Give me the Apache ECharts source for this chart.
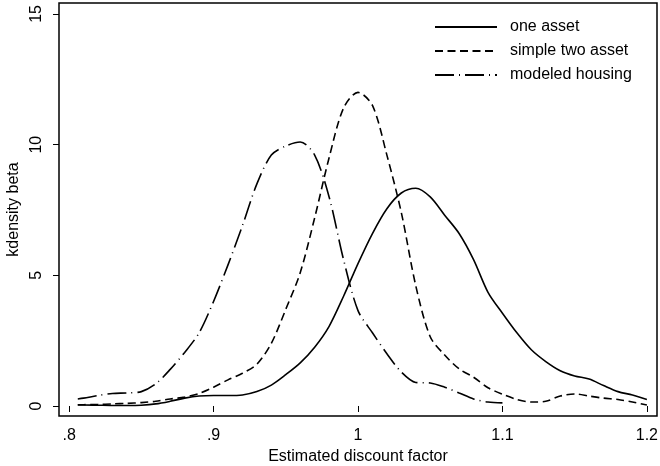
<!DOCTYPE html>
<html>
<head>
<meta charset="utf-8">
<script src="https://cdn.jsdelivr.net/npm/echarts@6/dist/echarts.min.js"></script>
<style>
  html, body { margin: 0; padding: 0; background: #fff; }
  #chart { width: 660px; height: 466px; }
</style>
</head>
<body>
<div id="chart"></div>
<script>
  // evaluation points of the kernel densities
  var xs = [0.806, 0.81, 0.82, 0.83, 0.84, 0.85, 0.86, 0.87, 0.88, 0.89,
            0.90, 0.91, 0.92, 0.93, 0.94, 0.95, 0.96, 0.97, 0.98, 0.99,
            1.00, 1.01, 1.02, 1.03, 1.04, 1.05, 1.06, 1.07, 1.08, 1.09,
            1.10, 1.11, 1.12, 1.13, 1.14, 1.15, 1.16, 1.17, 1.18, 1.19, 1.20];

  var oneAsset = [0.04, 0.04, 0.03, 0.02, 0.02, 0.03, 0.08, 0.18, 0.30, 0.38,
                  0.40, 0.40, 0.42, 0.55, 0.80, 1.20, 1.65, 2.25, 3.05, 4.20,
                  5.45, 6.60, 7.55, 8.15, 8.33, 8.00, 7.30, 6.60, 5.60, 4.35,
                  3.55, 2.80, 2.15, 1.70, 1.35, 1.15, 1.03, 0.78, 0.55, 0.42, 0.25];

  var simpleTwo = [0.05, 0.05, 0.06, 0.08, 0.10, 0.13, 0.18, 0.27, 0.34, 0.48,
                   0.72, 1.00, 1.25, 1.60, 2.40, 3.70, 5.10, 7.20, 9.50, 11.40,
                   12.00, 11.50, 9.60, 7.40, 4.60, 2.65, 1.95, 1.42, 1.10, 0.70,
                   0.45, 0.25, 0.15, 0.18, 0.38, 0.46, 0.38, 0.30, 0.25, 0.15, 0.04];

  // modeled housing stops at 1.10
  var housing = [0.27, 0.30, 0.40, 0.48, 0.50, 0.55, 0.85, 1.40, 2.05, 2.80,
                 4.00, 5.40, 6.90, 8.50, 9.60, 9.95, 10.10, 9.60, 8.00, 5.60,
                 3.65, 2.80, 2.00, 1.30, 0.90, 0.88, 0.72, 0.50, 0.27, 0.15, 0.12];

  var xTicks = [0.8, 0.9, 1.0, 1.1, 1.2];
  var xTickLabels = ['.8', '.9', '1', '1.1', '1.2'];
  var yTicks = [0, 5, 10, 15];

  function pairs(ys) {
    return ys.map(function (y, i) { return [xs[i], y]; });
  }

  var font = 'Liberation Sans, Arial, sans-serif';
  var chart = echarts.init(document.getElementById('chart'));

  chart.setOption({
    animation: false,
    backgroundColor: '#fff',
    textStyle: { fontFamily: font },
    grid: {
      left: 59, top: 3, right: 3, bottom: 50,
      containLabel: false, outerBoundsMode: 'none',
      show: true, borderColor: '#000', borderWidth: 1.5
    },
    legend: {
      orient: 'vertical',
      left: 434, top: 19, padding: 0,
      itemWidth: 62, itemHeight: 18, itemGap: 8,
      itemStyle: { opacity: 0 },
      textStyle: { fontSize: 16, color: '#000', fontFamily: font, padding: [0, 0, 0, 8] },
      data: ['one asset', 'simple two asset', 'modeled housing']
    },
    xAxis: {
      type: 'value',
      min: 0.793, max: 1.207,
      name: 'Estimated discount factor',
      nameLocation: 'middle',
      nameGap: 32,
      nameTextStyle: { fontSize: 16, color: '#000', fontFamily: font },
      axisLine: { show: false },
      splitLine: { show: false },
      axisTick: { show: true, inside: false, length: 6, customValues: xTicks,
                  lineStyle: { color: '#000', width: 1 } },
      axisLabel: { customValues: xTicks, fontSize: 16, color: '#000', margin: 12,
                   formatter: function (v) {
                     var i = xTicks.findIndex(function (t) { return Math.abs(t - v) < 1e-6; });
                     return i >= 0 ? xTickLabels[i] : '';
                   } }
    },
    yAxis: {
      type: 'value',
      min: -0.383, max: 15.42,
      name: 'kdensity beta',
      nameLocation: 'middle',
      nameGap: 27,
      nameRotate: 90,
      nameTextStyle: { fontSize: 16, color: '#000', fontFamily: font },
      axisLine: { show: false },
      splitLine: { show: false },
      axisTick: { show: true, inside: false, length: 6, customValues: yTicks,
                  lineStyle: { color: '#000', width: 1 } },
      axisLabel: { customValues: yTicks, fontSize: 16, color: '#000', rotate: 90, margin: 14 }
    },
    series: [
      {
        name: 'one asset', type: 'line', data: pairs(oneAsset),
        symbol: 'none', smooth: 0.3,
        lineStyle: { color: '#000', width: 1.6, type: 'solid' },
        itemStyle: { color: '#000' }
      },
      {
        name: 'simple two asset', type: 'line', data: pairs(simpleTwo),
        symbol: 'none', smooth: 0.3,
        lineStyle: { color: '#000', width: 1.6, type: [8, 4.5] },
        itemStyle: { color: '#000' }
      },
      {
        name: 'modeled housing', type: 'line', data: pairs(housing),
        symbol: 'none', smooth: 0.3,
        lineStyle: { color: '#000', width: 1.6, type: [19, 5, 1, 5] },
        itemStyle: { color: '#000' }
      }
    ]
  });
</script>
</body>
</html>
